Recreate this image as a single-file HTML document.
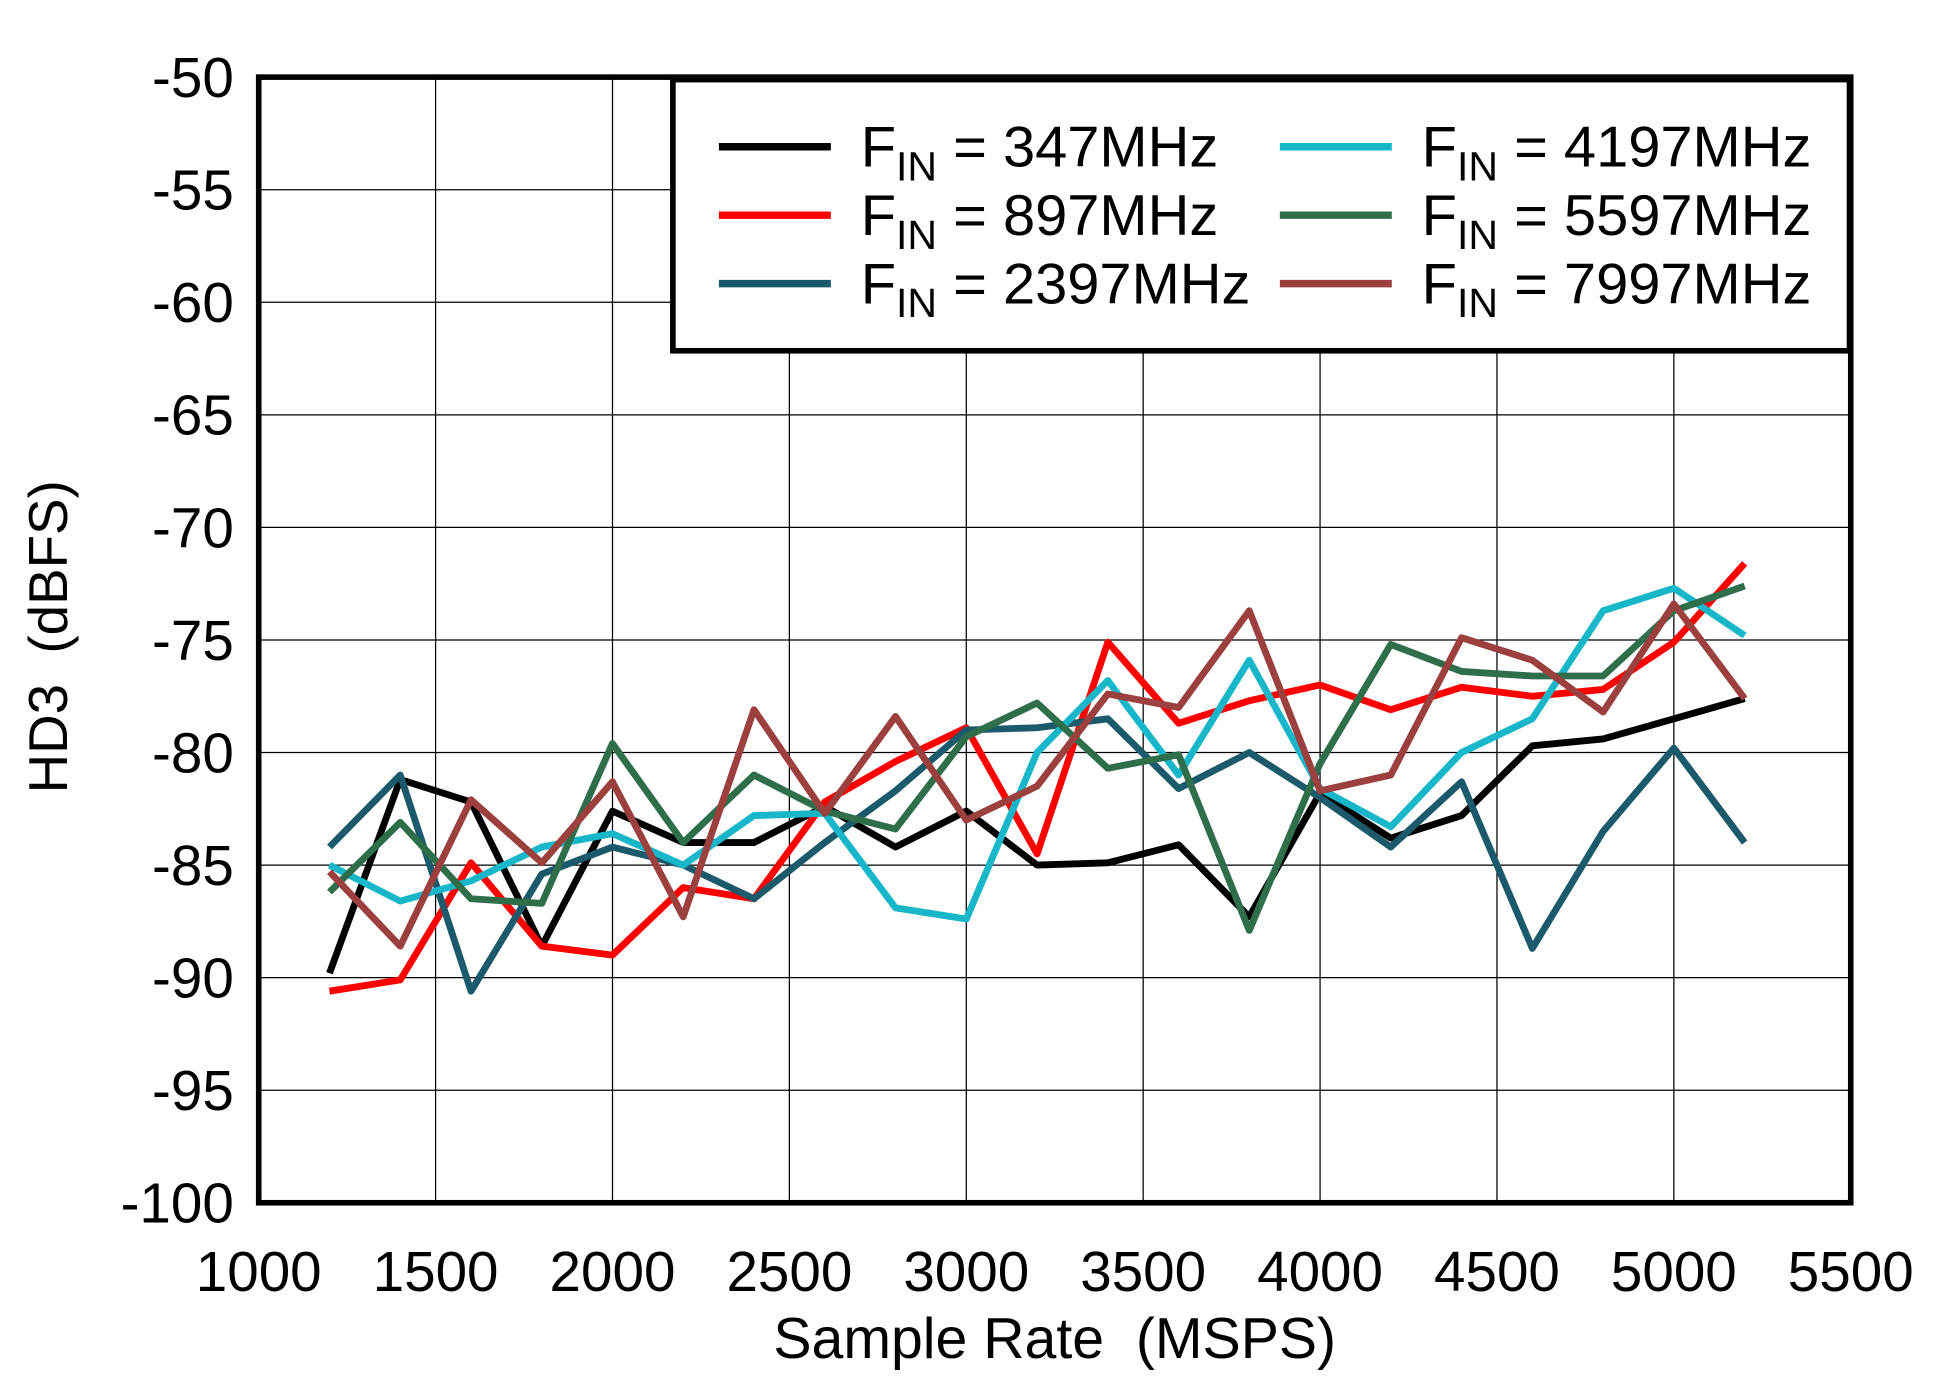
<!DOCTYPE html>
<html><head><meta charset="utf-8"><style>
html,body{margin:0;padding:0;background:#fff}
svg{display:block}
text{font-family:"Liberation Sans",Arial,sans-serif;fill:#000}
</style></head><body>
<svg id="s" width="1950" height="1382" viewBox="0 0 1567.8 1111.1" xmlns="http://www.w3.org/2000/svg">
<rect x="0" y="0" width="1568" height="1112" fill="#fff"/>
<g id="grid" stroke="#000" stroke-width="1"></g>
<g id="series" fill="none" stroke-width="5.5" stroke-linejoin="round"></g>
<rect x="208" y="62" width="1280" height="905" fill="none" stroke="#000" stroke-width="4.5"/>
<g id="ticks" font-size="45.5"></g>
<rect x="541" y="64" width="946" height="218" fill="#fff" stroke="#000" stroke-width="4.5"/>
<g id="legend" font-size="46.5"></g>
<text x="848" y="1092" font-size="46" text-anchor="middle" xml:space="preserve">Sample Rate  (MSPS)</text>
<text transform="translate(54,512) rotate(-90)" font-size="44" text-anchor="middle" xml:space="preserve">HD3  (dBFS)</text>
</svg>
<script>
var NS="http://www.w3.org/2000/svg";
function X(v){return 208+(v-1000)*1280/4500}
function Y(v){return 62+(-50-v)*905/50}
function el(p,t,a,txt){var e=document.createElementNS(NS,t);for(var k in a)e.setAttribute(k,a[k]);if(txt!=null)e.textContent=txt;document.getElementById(p).appendChild(e);return e}
for(var x=1500;x<5500;x+=500)el("grid","line",{x1:X(x),x2:X(x),y1:62,y2:967});
for(var y=-55;y>-100;y-=5)el("grid","line",{x1:208,x2:1488,y1:Y(y),y2:Y(y)});
for(var y=-50;y>=-100;y-=5)el("ticks","text",{x:188,y:Y(y)+16,"text-anchor":"end"},String(y));
for(var x=1000;x<=5500;x+=500)el("ticks","text",{x:X(x),y:1038,"text-anchor":"middle"},String(x));
var S=[
["#000",[-89.8,-81.2,-82.2,-88.6,-82.6,-84.0,-84.0,-82.4,-84.2,-82.6,-85.0,-84.9,-84.1,-87.3,-81.8,-83.8,-82.8,-79.7,-79.4,-78.5,-77.6]],
["#ff0000",[-90.6,-90.1,-84.9,-88.6,-89.0,-86.0,-86.5,-82.2,-80.4,-78.9,-84.5,-75.1,-78.7,-77.7,-77.0,-78.1,-77.1,-77.5,-77.2,-75.1,-71.6]],
["#1b5a6b",[-84.2,-81.0,-90.6,-85.4,-84.2,-85.0,-86.5,-84.0,-81.7,-79.0,-78.9,-78.5,-81.6,-80.0,-82.0,-84.2,-81.3,-88.7,-83.5,-79.8,-84.0]],
["#17b7c9",[-85.0,-86.6,-85.7,-84.2,-83.6,-85.0,-82.8,-82.7,-86.9,-87.4,-80.0,-76.8,-81.0,-75.9,-81.6,-83.3,-80.0,-78.5,-73.7,-72.7,-74.8]],
["#2f6e4b",[-86.2,-83.1,-86.5,-86.7,-79.6,-84.0,-81.0,-82.6,-83.4,-79.3,-77.8,-80.7,-80.1,-87.9,-80.5,-75.2,-76.4,-76.6,-76.6,-73.7,-72.6]],
["#9b3f3f",[-85.3,-88.6,-82.1,-84.9,-81.3,-87.3,-78.1,-82.7,-78.4,-83.0,-81.5,-77.4,-78.0,-73.7,-81.7,-81.0,-74.9,-75.9,-78.2,-73.4,-77.6]]];
S.forEach(function(s){var p=s[1].map(function(v,i){return X(1200+200*i).toFixed(1)+","+Y(v).toFixed(1)}).join(" ");el("series","polyline",{points:p,stroke:s[0]});});
var L=[["#000","347MHz",578,118],["#ff0000","897MHz",578,173],["#1b5a6b","2397MHz",578,228],["#17b7c9","4197MHz",1029,118],["#2f6e4b","5597MHz",1029,173],["#9b3f3f","7997MHz",1029,228]];
L.forEach(function(l){el("legend","line",{x1:l[2],x2:l[2]+90,y1:l[3],y2:l[3],stroke:l[0],"stroke-width":6});
var t=el("legend","text",{x:l[2]+114,y:l[3]+16});
var a=document.createElementNS(NS,"tspan");a.textContent="F";t.appendChild(a);
var b=document.createElementNS(NS,"tspan");b.setAttribute("font-size","33");b.setAttribute("dy","11");b.textContent="IN";t.appendChild(b);
var c=document.createElementNS(NS,"tspan");c.setAttribute("dy","-11");c.textContent=" = "+l[1];t.appendChild(c);});
</script>
</body></html>
